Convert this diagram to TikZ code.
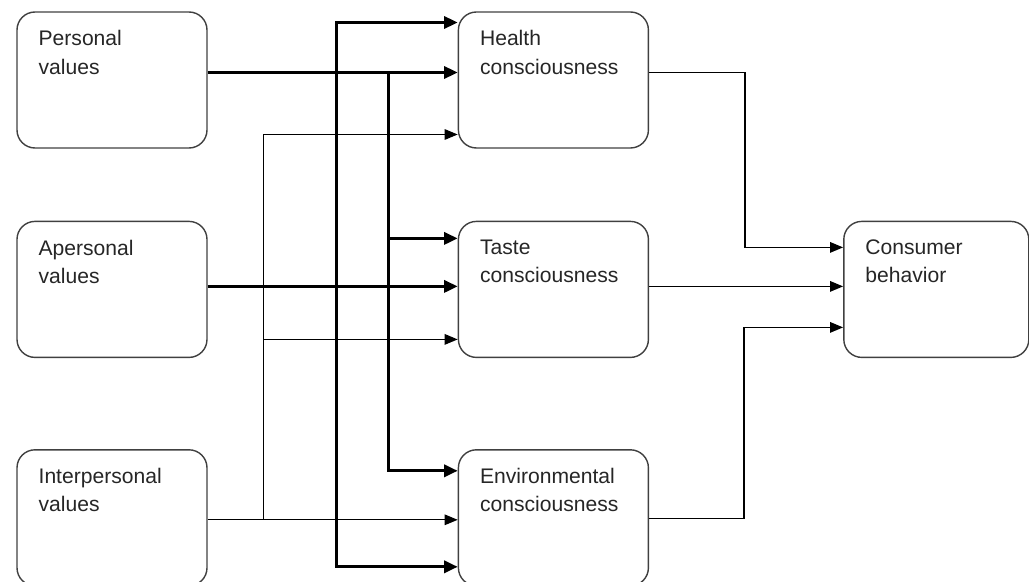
\documentclass[tikz,border=0pt]{standalone}
\usepackage{fontspec}
\setmainfont{Liberation Sans}
\usepackage{tikz}
\usetikzlibrary{arrows.meta, positioning, calc}
\tikzstyle{factor} = [rectangle, rounded corners=0.36cm, minimum width=3.8cm, minimum height=2.72cm, draw=black!75, line width=0.8pt]
\tikzstyle{boxtext} = [anchor=north west, inner sep=0pt, align=left, xshift=0.44cm, yshift=-0.38cm, text=black!85, font=\fontsize{12}{16}\selectfont]
\tikzstyle{thinarrow} = [line width=0.75pt, -{Triangle[length=0.26cm, width=0.21cm]}]
\tikzstyle{thickarrow} = [line width=1.7pt, -{Triangle[length=0.27cm, width=0.24cm]}]

\begin{document}
\begin{tikzpicture}[node distance=2cm]
		\useasboundingbox (0,0) rectangle (20.58,-11.64);
		
		\node (pers) [factor, label={[boxtext]north west:{Personal\\values}}] at (2.24,-1.6) {};
		\node (aper) [factor, below=1.44cm of pers, label={[boxtext]north west:{Apersonal\\values}}] {};
		\node (inter) [factor, below=1.82cm of aper, label={[boxtext]north west:{Interpersonal\\values}}] {};
		
		\node (health) [factor, right=5cm of pers, label={[boxtext]north west:{Health\\consciousness}}] {};
		\node (taste) [factor, right=5cm of aper, label={[boxtext]north west:{Taste\\consciousness}}] {};
		\node (env) [factor, right=5cm of inter, label={[boxtext]north west:{Environmental\\consciousness}}] {};
		
		\node (cons) [factor, minimum width=3.7cm, right=3.88cm of taste, label={[boxtext]north west:{Consumer\\behavior}}] {};
		
		% personal values
		\coordinate (pbus) at ([xshift=-1.38cm, yshift=0.15cm]health.west);
		\draw [thickarrow] ([yshift=0.15cm]pers.east) -- ([yshift=0.15cm]health.west);
		\draw [thickarrow] (pbus) |- ([yshift=1.02cm]taste.west);
		\draw [thickarrow] (pbus) |- ([yshift=0.94cm]env.west);
		
		% apersonal values
		\coordinate (abus) at ([xshift=-2.42cm, yshift=0.06cm]taste.west);
		\draw [thickarrow] ([yshift=0.06cm]aper.east) -- ([yshift=0.06cm]taste.west);
		\draw [thickarrow] (abus) |- ([yshift=1.15cm]health.west);
		\draw [thickarrow] (abus) |- ([yshift=-0.98cm]env.west);
		
		% interpersonal values
		\coordinate (ibus) at ([xshift=-3.88cm, yshift=-0.04cm]env.west);
		\draw [thinarrow] ([yshift=-0.04cm]inter.east) -- ([yshift=-0.04cm]env.west);
		\draw [thinarrow] (ibus) |- ([yshift=-1.09cm]health.west);
		\draw [thinarrow] (ibus) |- ([yshift=-1.0cm]taste.west);
		
		% consumer behavior
		\draw [thinarrow] ([yshift=0.15cm]health.east) -- ++(1.92cm,0) |- ([yshift=0.84cm]cons.west);
		\draw [thinarrow] ([yshift=0.06cm]taste.east) -- ([yshift=0.06cm]cons.west);
		\draw [thinarrow] ([yshift=-0.02cm]env.east) -- ++(1.9cm,0) |- ([yshift=-0.76cm]cons.west);
\end{tikzpicture}
\end{document}
